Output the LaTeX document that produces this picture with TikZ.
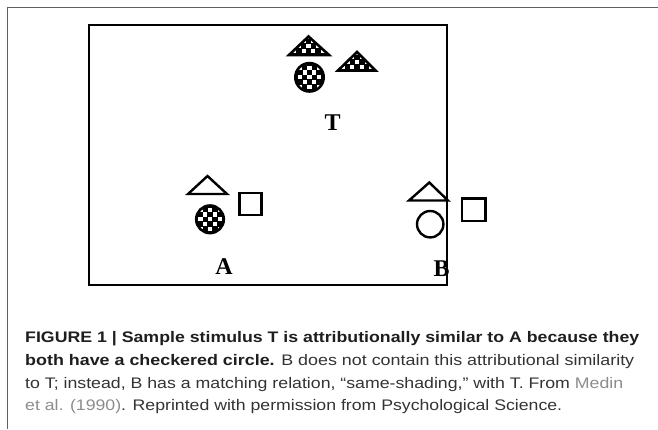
\documentclass[tikz,border=0pt]{standalone}
\usepackage{fontspec}
\usepackage{graphicx}
\setmainfont{Liberation Sans}
\newfontfamily\lblfont{Liberation Serif}
\definecolor{framec}{HTML}{606060}
\definecolor{boldc}{HTML}{1E1E1E}
\definecolor{captc}{HTML}{333333}
\definecolor{linkc}{HTML}{8C8C8C}
\newcommand\chkfill[2]{%
  \fill[black] (#1-22,#2-22) rectangle (#1+22,#2+22);
  \foreach \i in {-5,...,5}{\foreach \j in {-5,...,5}{%
    \pgfmathtruncatemacro\pp{mod(\i+\j+10,2)}%
    \ifnum\pp=0 \fill[white] (#1+\i*4.8-2.1,#2+\j*4.8-2.1) rectangle ++(4.2,4.2);\fi}}}
\tikzset{
  shapeline/.style={draw=black, line width=2.4pt},
  patline/.style={draw=black, line width=2.6pt},
  lbl/.style={font=\lblfont\bfseries\fontsize{24}{28}\selectfont, inner sep=0pt, anchor=base},
  capline/.style={font=\fontsize{15.3}{18}\selectfont, text=captc, inner sep=0pt, anchor=base west},
}
\begin{document}
\begin{tikzpicture}[x=1pt,y=-1pt]
\useasboundingbox (0,0) rectangle (658,429);
% outer frame
\draw[framec, line width=1pt] (7,429) -- (7,7) -- (658,7);
% inner box
\draw[black, line width=1.8pt] (88.8,25.3) rectangle (447,285);
% ---- T group ----
\begin{scope}
  \clip (289,55) -- (308.5,36.5) -- (329,55) -- cycle;
  \chkfill{308.5}{46}
\end{scope}
\draw[patline] (289,55) -- (308.5,36.5) -- (329,55) -- cycle;
\begin{scope}
  \clip (357,52) -- (375.5,70.5) -- (338,70.5) -- cycle;
  \chkfill{357}{62}
\end{scope}
\draw[patline] (338,70.5) -- (357,52) -- (375.5,70.5) -- cycle;
\begin{scope}
  \clip (309.5,77.3) circle (14.2pt);
  \chkfill{309.5}{77.3}
\end{scope}
\draw[patline] (309.5,77.3) circle (14.2pt);
\node[lbl] (labT) at (332.7,130) {T};
% ---- A group ----
\draw[shapeline] (188,194) -- (207.5,176) -- (227,194) -- cycle;
\draw[shapeline] (239.5,193) rectangle (261.5,215);
\begin{scope}
  \clip (210,219.3) circle (13.8pt);
  \chkfill{210}{219.3}
\end{scope}
\draw[patline] (210,219.3) circle (13.8pt);
\node[lbl] (labA) at (224,274) {A};
% ---- B group ----
\draw[shapeline] (409,200.5) -- (429.3,182.5) -- (448,200.5) -- cycle;
\draw[shapeline] (462,198.5) rectangle (485.5,221);
\draw[shapeline] (430.2,224.2) circle (13.2pt);
\node[lbl] (labB) at (441.7,276) {B};
% ---- caption ----
\node[capline] (cap1) at (25,342) {\resizebox{614pt}{\height}{\bfseries\color{boldc}FIGURE 1 | Sample stimulus T is attributionally similar to A because they}};
\node[capline] (cap2) at (25,365.5) {\resizebox{609pt}{\height}{{\bfseries\color{boldc}both have a checkered circle.} B does not contain this attributional similarity}};
\node[capline] (cap3) at (25,388) {\resizebox{598pt}{\height}{to T; instead, B has a matching relation, “same-shading,” with T. From \textcolor{linkc}{Medin}}};
\node[capline] (cap4) at (25,410) {\resizebox{537pt}{\height}{\textcolor{linkc}{et al. (1990)}. Reprinted with permission from Psychological Science.}};
\end{tikzpicture}
\end{document}
